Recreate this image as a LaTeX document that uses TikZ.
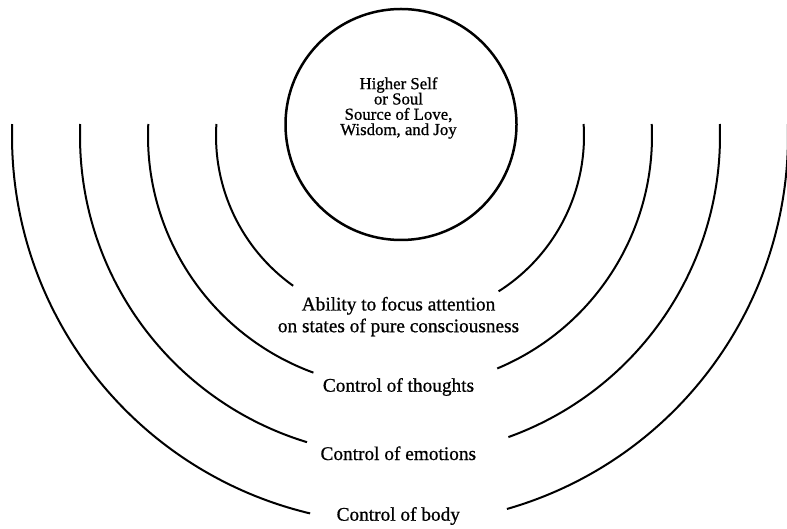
\documentclass[tikz,border=0pt]{standalone}
\usepackage{fontspec}
\setmainfont{Liberation Serif}[FakeBold=0.8]
\begin{document}
\begin{tikzpicture}[x=1pt,y=1pt,
  ring/.style={line width=2pt},
  lbl/.style={font=\fontsize{19.3}{21.7}\selectfont, align=center, inner sep=0pt},
  soulring/.style={circle, draw, line width=2.5pt, minimum size=231pt, inner sep=0pt}]
\useasboundingbox (0,0) rectangle (787,528);
\clip (0,0) rectangle (787,528);
\coordinate (c) at (400,392);
% central circle
\node[soulring] (soul) at (401,403.5) {};
\node[font=\fontsize{16.8}{15.3}\selectfont, align=center, inner sep=0pt] (soultext) at (398.5,420)
  {Higher Self\\or Soul\\Source of Love,\\Wisdom, and Joy};
% left arcs
\draw[ring] ([shift={(176.26:184pt)}]c) arc[start angle=176.26, end angle=234.5, radius=184pt];
\draw[ring] ([shift={(177.27:252pt)}]c) arc[start angle=177.27, end angle=249.9, radius=252pt];
\draw[ring] ([shift={(177.85:320pt)}]c) arc[start angle=177.85, end angle=253.1, radius=320pt];
\draw[ring] ([shift={(178.23:388pt)}]c) arc[start angle=178.23, end angle=256.6, radius=388pt];
% right arcs
\draw[ring] ([shift={(3.74:184pt)}]c) arc[start angle=3.74, end angle=-57.6, radius=184pt];
\draw[ring] ([shift={(2.73:252pt)}]c) arc[start angle=2.73, end angle=-67.3, radius=252pt];
\draw[ring] ([shift={(2.15:320pt)}]c) arc[start angle=2.15, end angle=-70.2, radius=320pt];
\draw[ring] ([shift={(1.77:388pt)}]c) arc[start angle=1.77, end angle=-74.0, radius=388pt];
% labels
\node[lbl] (ability) at (398.5,211.4) {Ability to focus attention\\on states of pure consciousness};
\node[lbl, anchor=base] (thoughts) at (398.5,136.3) {Control of thoughts};
\node[lbl, anchor=base] (emotions) at (398.3,68) {Control of emotions};
\node[lbl, anchor=base] (body) at (398.3,7.3) {Control of body};
\end{tikzpicture}
\end{document}
